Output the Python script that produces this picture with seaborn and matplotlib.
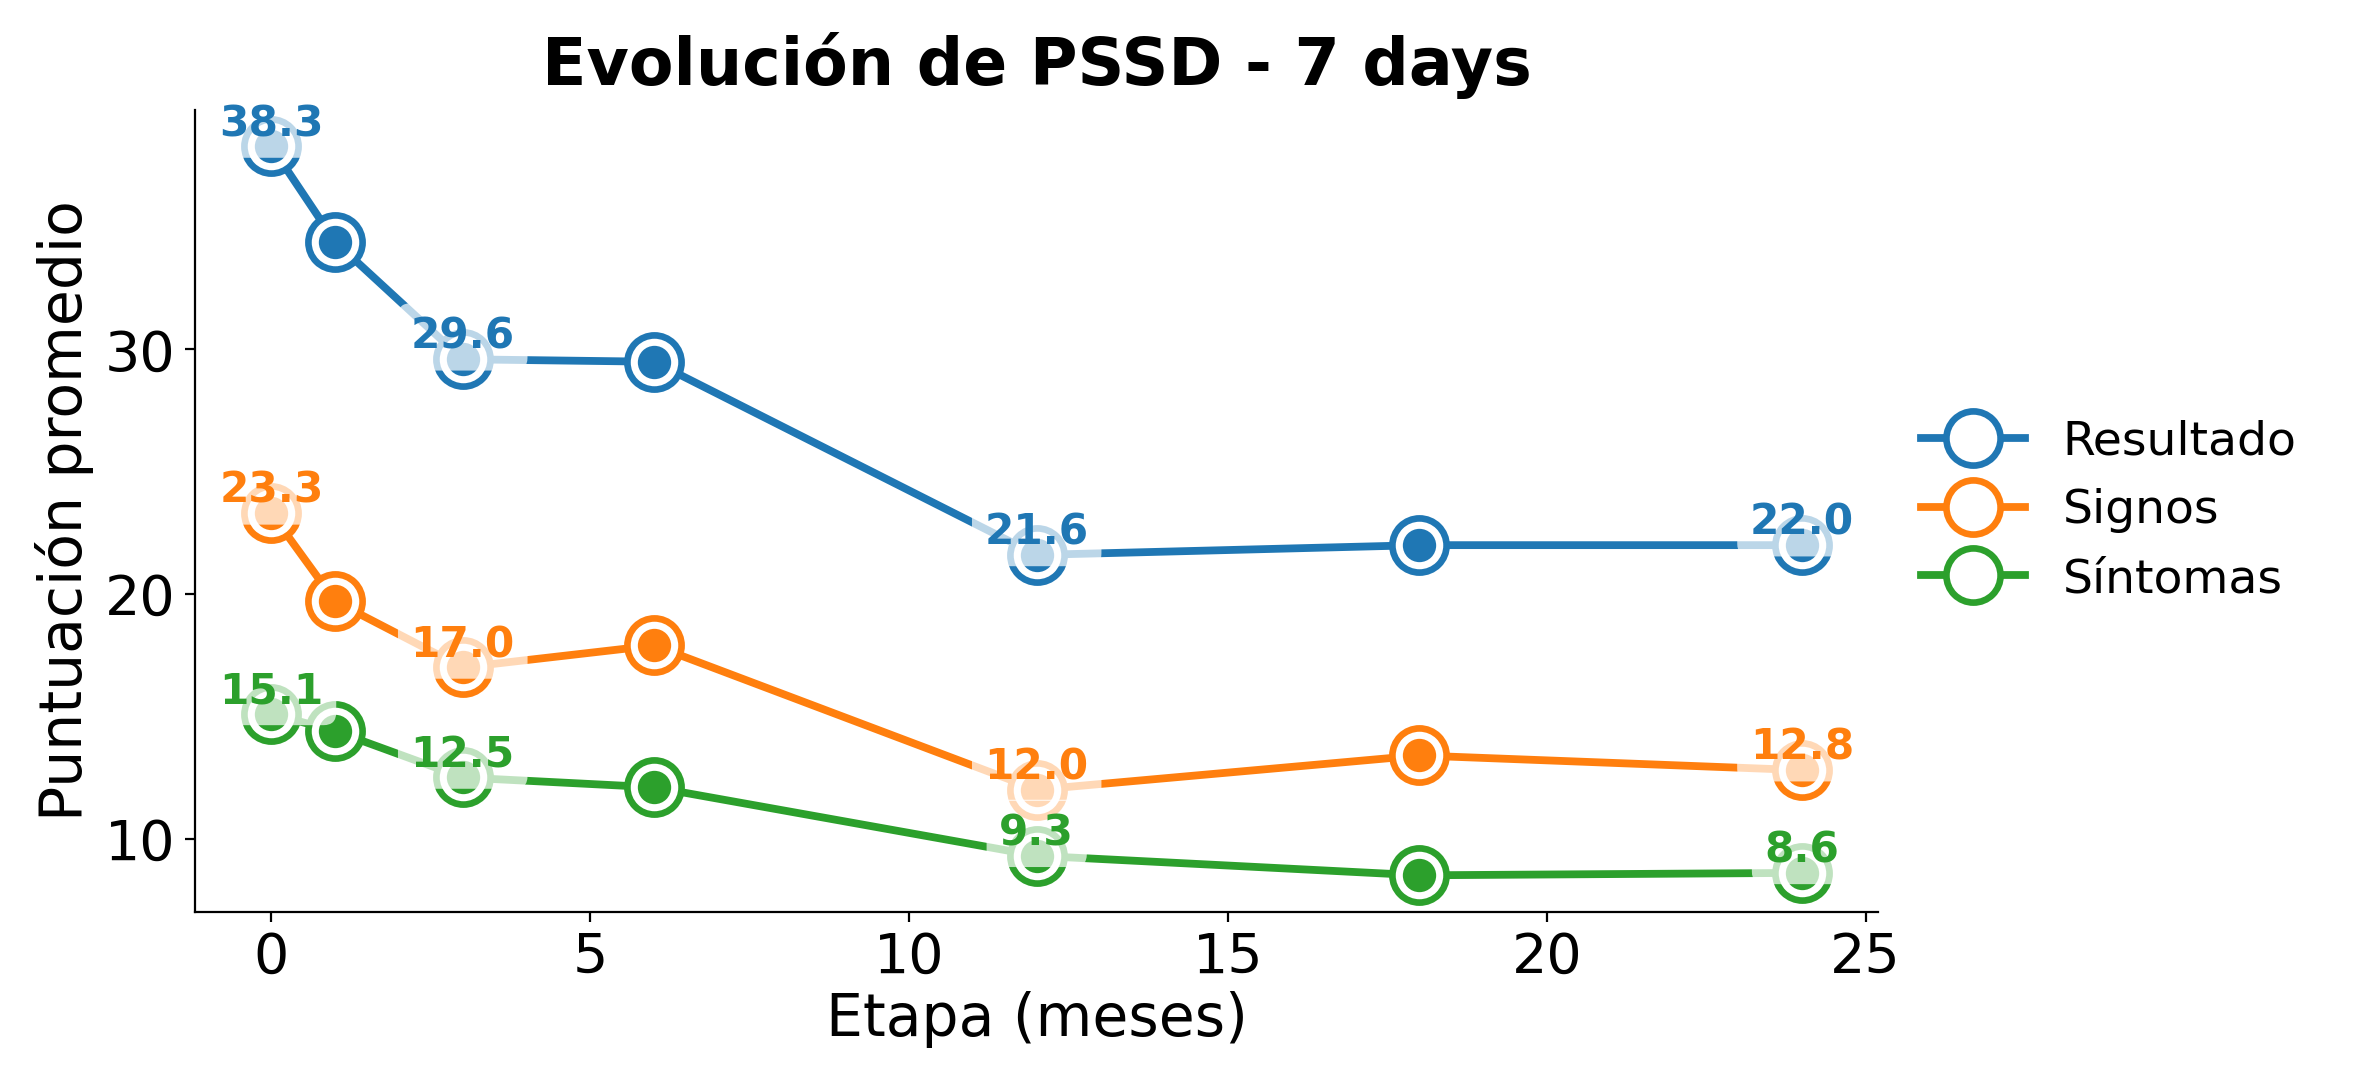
import numpy as np
import pandas as pd
import seaborn as sns
import matplotlib
matplotlib.use("Agg")
import matplotlib.pyplot as plt
from matplotlib.lines import Line2D
from matplotlib.ticker import MultipleLocator

# ---- data ----
meses = [0, 1, 3, 6, 12, 18, 24]
resultado = [38.3, 34.4, 29.6, 29.5, 21.6, 22.0, 22.0]
signos = [23.3, 19.7, 17.0, 17.9, 12.0, 13.4, 12.8]
sintomas = [15.1, 14.4, 12.5, 12.1, 9.3, 8.5, 8.6]
series_names = ["Resultado", "Signos", "Síntomas"]
series_values = [resultado, signos, sintomas]
colors = ["#1f77b4", "#ff7f0e", "#2ca02c"]

title = "Evolución de PSSD - 7 days"
xlabel = "Etapa (meses)"
ylabel = "Puntuación promedio"

plt.rcParams["font.family"] = ["DejaVu Sans"]
plt.rcParams["text.color"] = "black"
plt.rcParams["axes.labelcolor"] = "black"
plt.rcParams["xtick.color"] = "black"
plt.rcParams["ytick.color"] = "black"

fig, ax = plt.subplots(figsize=(2354 / 200, 1079 / 200), dpi=200)
fig.subplots_adjust(left=0.0828, right=0.798, bottom=0.155, top=0.898)
ax.set_facecolor("white")

LW = 2.8
MS = 19.5
MEW = 2.4

handles = []
for name, vals, c in zip(series_names, series_values, colors):
    df = pd.DataFrame({"Etapa": meses, "Valor": vals})
    sns.lineplot(data=df, x="Etapa", y="Valor", ax=ax, color=c, linewidth=LW,
                 marker="o", markersize=MS, markerfacecolor="white",
                 markeredgecolor=c, markeredgewidth=MEW, legend=False, zorder=2)
    sns.scatterplot(data=df, x="Etapa", y="Valor", ax=ax, color=c, s=12 ** 2,
                    linewidth=0, legend=False, zorder=2.5)
    for i in range(0, len(meses), 2):
        ax.annotate(f"{vals[i]:.1f}", (meses[i], vals[i]), xytext=(0, 0.5),
                    textcoords="offset points", ha="center", va="bottom",
                    fontsize=15.2, fontweight="bold", color=c, zorder=4,
                    bbox=dict(boxstyle="round,pad=0.3", fc="white", ec="none", alpha=0.7))
    handles.append(Line2D([], [], color=c, lw=LW, marker="o", markersize=MS,
                          markerfacecolor="white", markeredgecolor=c, markeredgewidth=MEW))

ax.yaxis.set_major_locator(MultipleLocator(10))
ax.set_title(title, fontsize=23.4, fontweight="bold", pad=9)
ax.set_xlabel(xlabel, fontsize=21, labelpad=2)
ax.set_ylabel(ylabel, fontsize=21)
ax.tick_params(axis="both", labelsize=20, length=3.5, width=0.8, left=True, bottom=True)
for s in ["left", "bottom"]:
    ax.spines[s].set_color("black")
    ax.spines[s].set_linewidth(0.8)
sns.despine(ax=ax)

ax.legend(handles, series_names, loc="center left", bbox_to_anchor=(1.0, 0.5),
          frameon=False, fontsize=17, handlelength=2.2, labelspacing=0.5)

fig.savefig("out.png", dpi=200)
